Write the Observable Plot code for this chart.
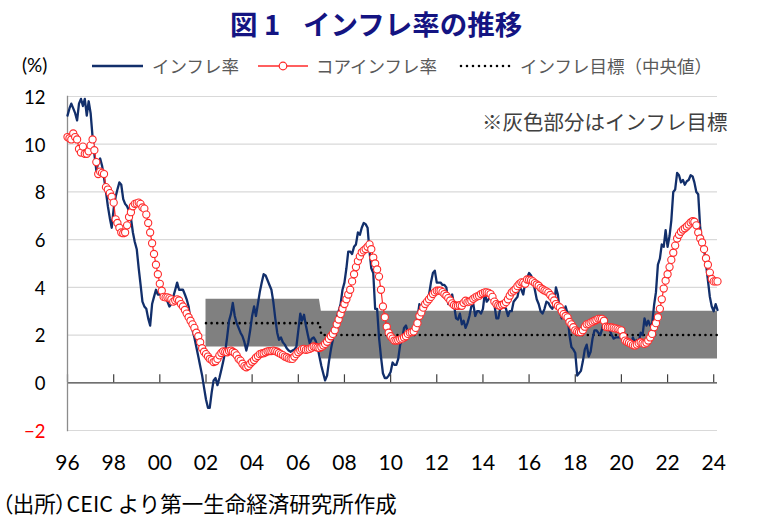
<!DOCTYPE html>
<html><head><meta charset="utf-8">
<script src="https://cdn.jsdelivr.net/npm/d3@7"></script>
<script src="https://cdn.jsdelivr.net/npm/@observablehq/plot@0.6"></script>
<style>
body{margin:0;background:#fff;}
#wrap{position:relative;width:757px;height:525px;overflow:hidden;font-family:"Noto Sans CJK JP",sans-serif;}
.abs{position:absolute;white-space:nowrap;}
.ttl{font-size:27.5px;line-height:28px;font-weight:bold;color:#141482;top:9px;}
</style></head><body>
<div id="wrap">
  <div class="abs ttl" style="left:230px;">図</div>
  <div class="abs ttl" style="left:264px;">1</div>
  <div class="abs ttl" style="left:303px;">インフレ率の推移</div>
  <div class="abs" style="left:22px;top:55px;font-family:Lato,sans-serif;font-size:19px;line-height:20px;color:#000;">(%)</div>
  <svg class="abs" style="left:0;top:50px" width="757" height="32">
    <line x1="92" x2="143" y1="16" y2="16" stroke="#122f6b" stroke-width="2.4"/>
    <line x1="258" x2="308" y1="16" y2="16" stroke="#ff2a2a" stroke-width="1.3"/>
    <circle cx="283" cy="16" r="3.8" fill="#fff" stroke="#ff2a2a" stroke-width="1.2"/>
    <line x1="461" x2="512" y1="16" y2="16" stroke="#000" stroke-width="2.6" stroke-dasharray="0 6" stroke-linecap="round"/>
  </svg>
  <div class="abs" style="left:152px;top:57px;font-size:17.5px;line-height:18px;color:#595959;">インフレ率</div>
  <div class="abs" style="left:316px;top:57px;font-size:17.5px;line-height:18px;color:#595959;">コアインフレ率</div>
  <div class="abs" style="left:520px;top:57px;font-size:17.5px;line-height:18px;color:#595959;">インフレ目標（中央値）</div>
  <div id="chart" class="abs" style="left:0;top:80px;"></div>
  <div class="abs" style="left:2px;top:492px;font-size:21.5px;line-height:22px;color:#000;"><span style="font-feature-settings:'palt';">（出所）</span>CEIC より第一生命経済研究所作成</div>
</div>
<script>
// Monthly headline inflation (%, y/y), Jan 1996 – Mar 2024
const headline = [
  11.2, 11.5, 11.7, 11.5, 11.3, 11.0, 11.7, 11.9, 11.6, 11.9, 11.2, 11.8, // 1996
  11.3, 10.3, 9.6, 8.9, 9.2, 9.4, 9.1, 8.6, 8.0, 7.4, 6.9, 6.5,           // 1997
  7.3, 7.8, 8.1, 8.4, 8.3, 7.7, 7.5, 7.4, 7.2, 6.9, 6.3, 5.9,             // 1998
  5.6, 4.8, 4.15, 3.4, 3.2, 3.1, 2.7, 2.4, 3.3, 3.6, 3.9, 3.7,            // 1999
  3.7, 3.7, 3.7, 3.6, 3.4, 3.2, 3.3, 3.6, 3.9, 4.2, 3.9, 3.9,             // 2000
  3.9, 3.7, 3.5, 3.2, 2.6, 2.2, 1.9, 1.5, 1.1, 0.7, 0.3, -0.2,            // 2001
  -0.7, -1.05, -1.05, -0.4, 0.1, 0.2, -0.1, 0.2, 0.55, 0.9, 1.3, 1.9,     // 2002
  2.6, 2.9, 3.35, 2.8, 2.5, 2.3, 2.1, 1.95, 1.7, 1.35, 1.7, 2.2,          // 2003
  2.8, 3.2, 2.8, 3.3, 3.8, 4.2, 4.55, 4.5, 4.3, 4.1, 3.9, 3.4,            // 2004
  2.7, 2.1, 1.8, 1.9, 1.7, 1.6, 1.45, 1.35, 1.3, 1.35, 1.4, 1.5,          // 2005
  2.2, 2.9, 2.6, 2.85, 2.4, 2.0, 1.65, 1.85, 1.9, 1.77, 1.5, 1.1,         // 2006
  0.7, 0.38, 0.1, 0.3, 0.9, 1.4, 1.8, 2.3, 2.7, 3.0, 3.3, 3.9,            // 2007
  4.2, 4.8, 5.5, 5.5, 5.4, 5.7, 5.8, 6.3, 6.2, 6.5, 6.7, 6.65,            // 2008
  6.5, 5.5, 4.8, 4.6, 3.1, 3.1, 1.9, 1.1, 0.4, 0.2, 0.2, 0.3,             // 2009
  0.45, 0.85, 0.75, 0.75, 1.0, 1.6, 1.8, 2.3, 2.4, 2.1, 2.2, 2.1,         // 2010
  2.2, 2.2, 2.7, 3.3, 3.1, 2.9, 3.4, 3.4, 3.7, 4.2, 4.6, 4.7,             // 2011
  4.2, 4.2, 4.2, 4.1, 4.1, 4.0, 3.3, 3.5, 3.7, 3.25, 2.7, 2.65,           // 2012
  2.9, 2.45, 2.6, 2.3, 2.5, 2.8, 3.2, 3.3, 2.8, 3.0, 3.0, 2.9,            // 2013
  3.1, 3.8, 3.4, 3.5, 3.6, 3.45, 3.3, 2.7, 2.7, 3.1, 3.2, 3.2,            // 2014
  3.1, 2.8, 3.0, 3.0, 3.4, 3.5, 3.6, 4.0, 3.9, 3.7, 4.2, 4.4,             // 2015
  4.6, 4.5, 4.3, 3.9, 3.5, 3.3, 3.0, 2.9, 3.1, 3.4, 3.35, 3.2,            // 2016
  3.1, 3.25, 4.0, 3.7, 3.0, 2.7, 2.85, 3.2, 2.9, 2.0, 1.5, 1.4,           // 2017
  1.25, 0.3, 0.4, 0.5, 0.9, 1.4, 1.6, 1.1, 1.3, 1.85, 2.2, 2.2,           // 2018
  2.1, 2.0, 2.25, 2.6, 2.7, 2.3, 2.2, 2.0, 1.85, 1.9, 1.9, 1.9,           // 2019
  1.9, 1.9, 1.8, 1.7, 1.8, 1.6, 1.9, 1.7, 1.8, 1.7, 2.1, 2.0,             // 2020
  2.7, 2.4, 2.6, 2.4, 2.45, 3.25, 3.8, 4.95, 5.2, 5.8, 5.7, 6.4,          // 2021
  5.7, 6.15, 6.8, 8.0, 8.1, 8.8, 8.7, 8.4, 8.5, 8.3, 8.45, 8.5,           // 2022
  8.7, 8.65, 8.4, 8.0, 7.9, 6.5, 5.9, 5.6, 5.0, 4.3, 3.6, 3.2,            // 2023
  3.0, 3.3, 3.05                                                          // 2024
];
// Monthly core inflation (%, y/y), Jan 1996 – Mar 2024
const core = [
  10.3, 10.25, 10.2, 10.45, 10.3, 10.2, 9.8, 9.65, 9.9, 9.6, 9.6, 9.7,    // 1996
  9.95, 10.2, 9.75, 9.25, 8.75, 8.85, 8.8, 8.75, 8.2, 8.1, 7.95, 7.8,     // 1997
  7.55, 6.85, 6.7, 6.5, 6.3, 6.27, 6.3, 6.6, 6.95, 7.15, 7.4, 7.5,        // 1998
  7.52, 7.55, 7.5, 7.35, 7.3, 7.05, 6.7, 6.3, 5.85, 5.4, 4.95, 4.55,      // 1999
  4.15, 3.86, 3.6, 3.58, 3.58, 3.55, 3.5, 3.4, 3.45, 3.5, 3.45, 3.3,      // 2000
  3.2, 3.05, 2.9, 2.75, 2.6, 2.45, 2.3, 2.1, 1.95, 1.7, 1.45, 1.3,        // 2001
  1.2, 1.1, 1.0, 0.95, 0.87, 0.9, 1.0, 1.15, 1.25, 1.32, 1.3, 1.28,       // 2002
  1.33, 1.35, 1.3, 1.25, 1.15, 1.0, 0.93, 0.8, 0.7, 0.65, 0.7, 0.8,       // 2003
  0.88, 0.95, 1.05, 1.12, 1.2, 1.23, 1.24, 1.28, 1.32, 1.33, 1.33, 1.35,  // 2004
  1.33, 1.3, 1.25, 1.2, 1.16, 1.1, 1.07, 1.03, 1.0, 1.0, 1.1, 1.2,        // 2005
  1.28, 1.35, 1.4, 1.42, 1.38, 1.4, 1.42, 1.47, 1.52, 1.5, 1.48, 1.46,    // 2006
  1.5, 1.56, 1.63, 1.72, 1.84, 1.95, 2.05, 2.2, 2.45, 2.65, 2.88, 3.1,    // 2007
  3.3, 3.5, 3.7, 3.9, 4.25, 4.55, 4.85, 5.1, 5.3, 5.47, 5.55, 5.61,       // 2008
  5.7, 5.8, 5.6, 5.25, 5.0, 4.75, 4.45, 3.9, 3.2, 2.75, 2.35, 2.1,        // 2009
  1.95, 1.85, 1.77, 1.77, 1.78, 1.82, 1.85, 1.9, 1.95, 2.05, 2.1, 2.12,   // 2010
  2.15, 2.3, 2.5, 2.8, 2.95, 3.15, 3.3, 3.4, 3.5, 3.6, 3.72, 3.8,         // 2011
  3.86, 3.86, 3.86, 3.8, 3.72, 3.65, 3.55, 3.45, 3.33, 3.26, 3.23, 3.23,  // 2012
  3.25, 3.23, 3.35, 3.44, 3.38, 3.4, 3.44, 3.52, 3.58, 3.62, 3.65, 3.72,  // 2013
  3.76, 3.79, 3.79, 3.77, 3.72, 3.6, 3.4, 3.3, 3.25, 3.23, 3.27, 3.3,     // 2014
  3.38, 3.5, 3.65, 3.79, 3.86, 3.93, 4.05, 4.14, 4.21, 4.2, 4.15, 4.33,   // 2015
  4.32, 4.3, 4.25, 4.18, 4.12, 4.07, 3.98, 3.92, 3.87, 3.83, 3.78, 3.68,  // 2016
  3.58, 3.45, 3.3, 3.22, 3.16, 3.0, 2.88, 2.8, 2.74, 2.55, 2.45, 2.33,    // 2017
  2.2, 2.15, 2.12, 2.12, 2.2, 2.35, 2.45, 2.47, 2.52, 2.56, 2.6, 2.63,    // 2018
  2.68, 2.68, 2.68, 2.6, 2.35, 2.33, 2.33, 2.32, 2.3, 2.28, 2.26, 2.23,   // 2019
  2.2, 1.95, 1.77, 1.72, 1.68, 1.63, 1.58, 1.56, 1.6, 1.66, 1.7, 1.66,    // 2020
  1.63, 1.68, 1.77, 1.9, 2.05, 2.33, 2.5, 2.75, 3.1, 3.5, 3.95, 4.28,     // 2021
  4.55, 4.85, 5.15, 5.45, 5.75, 6.05, 6.2, 6.33, 6.42, 6.48, 6.55, 6.63,  // 2022
  6.72, 6.77, 6.75, 6.6, 6.3, 6.05, 5.88, 5.6, 5.22, 4.95, 4.62, 4.35,    // 2023
  4.25, 4.25, 4.25                                                        // 2024
];
// Inflation target regimes
const targetStart = ["2002-01-01", "2007-01-01"];
const targetEnd   = ["2006-12-01", "2024-03-01"];
const targetLower = [1.5, 1.0];
const targetUpper = [3.5, 3.0];
const targetMid   = [2.5, 2.0];
// Axis ticks
const xTickYears = [1996, 1998, 2000, 2002, 2004, 2006, 2008, 2010, 2012, 2014, 2016, 2018, 2020, 2022, 2024];
const yTickLabels = [0, 2, 4, 6, 8, 10, 12];
const yNegTicks = [-2];
const gridTicks = [-2, 2, 4, 6, 8, 10, 12];
const note = "※灰色部分はインフレ目標";

const rows = headline.map((h, i) => ({date: new Date(Date.UTC(1996, i, 1)), headline: h, core: core[i]}));
const targetRows = [];
targetStart.forEach((s, i) => {
  targetRows.push({date: new Date(s + "T00:00:00Z"), lower: targetLower[i], upper: targetUpper[i], mid: targetMid[i]});
  targetRows.push({date: new Date(targetEnd[i] + "T00:00:00Z"), lower: targetLower[i], upper: targetUpper[i], mid: targetMid[i]});
});
const xTicks = xTickYears.map(y => new Date(Date.UTC(y, 0, 1)));
const xDomain = [rows[0].date, rows[rows.length - 1].date];

const chart = Plot.plot({
  width: 757, height: 400,
  marginLeft: 67, marginRight: 40, marginTop: 16, marginBottom: 50,
  x: {type: "utc", domain: xDomain, label: null},
  y: {domain: [-2, 12], label: null},
  style: {fontFamily: "Lato, sans-serif", background: "white", overflow: "visible"},
  marks: [
    Plot.gridY(gridTicks, {stroke: "#d9d9d9", strokeOpacity: 1, strokeWidth: 1.2}),
    Plot.areaY(targetRows, {x: "date", y1: "lower", y2: "upper", fill: "#808080", fillOpacity: 1, curve: "linear"}),
    Plot.lineY(targetRows, {x: "date", y: "mid", stroke: "#000", strokeWidth: 2.6, strokeDasharray: "0 5.6", strokeLinecap: "round"}),
    Plot.ruleY([0], {stroke: "#404040", strokeWidth: 1.3}),
    Plot.ruleX(xTicks, {y1: 0, y2: 0, insetTop: -8, stroke: "#404040", strokeWidth: 1.2}),
    Plot.frame({anchor: "left", stroke: "#8c8c8c", strokeWidth: 1.3}),
    Plot.axisY(yTickLabels, {tickSize: 0, tickPadding: 22, fontSize: 18.5, fill: "#000", dy: 1.5, label: null}),
    Plot.axisY(yNegTicks, {tickSize: 0, tickPadding: 22, fontSize: 18.5, fill: "#ff0000", dy: 1.5, label: null}),
    Plot.axisX(xTicks, {tickSize: 0, tickPadding: 25, fontSize: 21, fill: "#000", label: null, tickFormat: d => String(d.getUTCFullYear()).slice(2)}),
    Plot.lineY(rows, {x: "date", y: "headline", stroke: "#122f6b", strokeWidth: 2.3}),
    Plot.lineY(rows, {x: "date", y: "core", stroke: "#ff2a2a", strokeWidth: 1.2}),
    Plot.dot(rows, {x: "date", y: "core", r: 3.6, fill: "#fff", stroke: "#ff2a2a", strokeWidth: 1.1}),
    Plot.text([note], {frameAnchor: "top-right", text: d => d, dx: 10, dy: 26.5, lineAnchor: "middle", fontSize: 20.5, fill: "#404040", fontFamily: "Noto Sans CJK JP, sans-serif"})
  ]
});
document.getElementById("chart").appendChild(chart);
</script>
</body></html>
